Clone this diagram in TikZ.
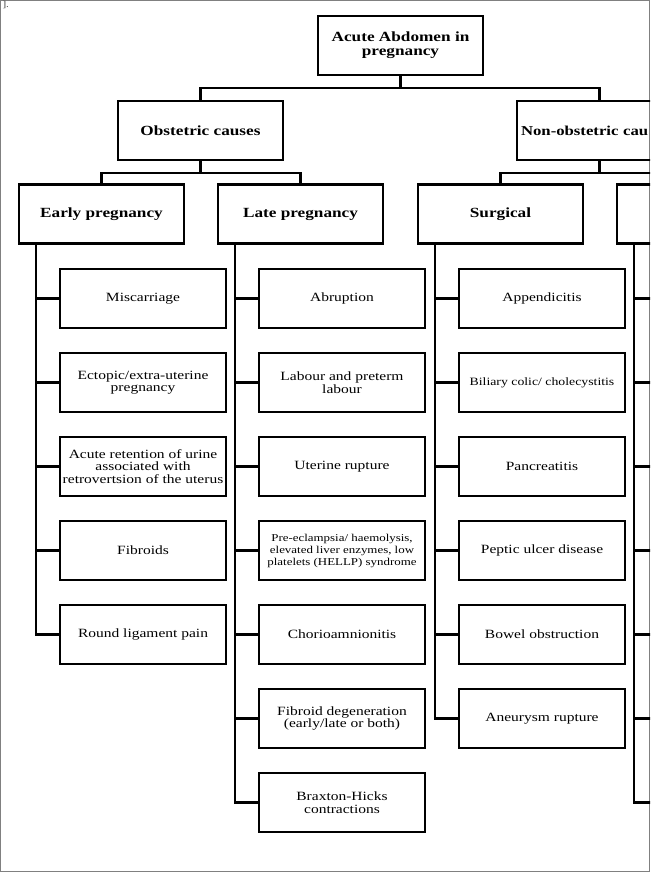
\documentclass[tikz,border=0pt]{standalone}
\usepackage{fontspec}
\setmainfont{Liberation Serif}[FakeStretch=1.23]
\usepackage{tikz}
\usetikzlibrary{positioning}

\begin{document}
\begin{tikzpicture}[x=1pt,y=-1pt]
          \tikzstyle{every node}=[rectangle, draw, line width=2.3pt, minimum width=165pt, minimum height=59pt, align=center, inner sep=2pt, outer sep=0pt]
          \tikzstyle{head}=[font=\fontsize{14}{14}\selectfont\bfseries]
          \tikzstyle{leaf}=[minimum width=166pt, font=\fontsize{12.6}{12.5}\selectfont]
          \tikzstyle{link}=[line width=2.3pt]
          \useasboundingbox (0,0) rectangle (650,872);
          \clip (0,0) rectangle (650,872);
          \draw[gray, line width=1.2pt] (0.6,0.6) rectangle (649.4,871.4);
          \node[draw=none, minimum width=0pt, minimum height=0pt, inner sep=0pt, anchor=north west, text=darkgray, font=\fontsize{9}{9}\selectfont] (Mark) at (2.5,1) {].};

          % top levels
          \node[head] (Root) at (400.5,45.5) {Acute Abdomen in\\pregnancy};
          \node[head] (Obst) at (200.5,130.5) {Obstetric causes};
          \node[head, anchor=west, text width=157pt, align=left, font=\fontsize{13.6}{14}\selectfont\bfseries] (NonObst) at (517,130.5) {Non-obstetric cau};
          \node[head] (Early) at (101.5,214) {Early pregnancy};
          \node[head] (Late) at (300.5,214) {Late pregnancy};
          \node[head] (Surg) at (500.5,214) {Surgical};
          \node[head] (Other) at (699.5,214) {};

          \coordinate (BarA) at (0,88);
          \coordinate (BarB) at (0,173);
          \draw[link] (Root.south) -- (Root.south |- BarA);
          \draw[link] (Obst.north) |- (BarA -| Root) -| (NonObst.north);
          \draw[link] (Obst.south) -- (Obst.south |- BarB);
          \draw[link] (Early.north) |- (BarB -| Obst) -| (Late.north);
          \draw[link] (NonObst.south) -- (NonObst.south |- BarB);
          \draw[link] (Surg.north) |- (BarB -| NonObst) -| (Other.north);

          % early pregnancy
          \node[leaf] (E1) at (143,298.5) {Miscarriage};
          \node[leaf, below=25pt of E1] (E2) {Ectopic/extra-uterine\\pregnancy};
          \node[leaf, below=25pt of E2] (E3) {Acute retention of urine\\associated with\\retrovertsion of the uterus};
          \node[leaf, below=25pt of E3] (E4) {Fibroids};
          \node[leaf, below=25pt of E4] (E5) {Round ligament pain};

          % late pregnancy
          \node[leaf] (L1) at (342,298.5) {Abruption};
          \node[leaf, below=25pt of L1] (L2) {Labour and preterm\\labour};
          \node[leaf, below=25pt of L2] (L3) {Uterine rupture};
          \node[leaf, below=25pt of L3, font=\fontsize{10.5}{12}\selectfont] (L4) {Pre-eclampsia/ haemolysis,\\elevated liver enzymes, low\\platelets (HELLP) syndrome};
          \node[leaf, below=25pt of L4] (L5) {Chorioamnionitis};
          \node[leaf, below=25pt of L5] (L6) {Fibroid degeneration\\(early/late or both)};
          \node[leaf, below=25pt of L6] (L7) {Braxton-Hicks\\contractions};

          % surgical
          \node[leaf] (S1) at (542,298.5) {Appendicitis};
          \node[leaf, below=25pt of S1, font=\fontsize{11.2}{12}\selectfont] (S2) {Biliary colic/ cholecystitis};
          \node[leaf, below=25pt of S2] (S3) {Pancreatitis};
          \node[leaf, below=25pt of S3] (S4) {Peptic ulcer disease};
          \node[leaf, below=25pt of S4] (S5) {Bowel obstruction};
          \node[leaf, below=25pt of S5] (S6) {Aneurysm rupture};

          \coordinate (ESpine) at ([xshift=17pt]Early.south west);
          \coordinate (LSpine) at ([xshift=17pt]Late.south west);
          \coordinate (SSpine) at ([xshift=17pt]Surg.south west);
          \coordinate (OSpine) at ([xshift=17pt]Other.south west);
          \foreach \i in {1,...,5} \draw[link] (ESpine) |- (E\i.west);
          \foreach \i in {1,...,7} \draw[link] (LSpine) |- (L\i.west);
          \foreach \i in {1,...,6} \draw[link] (SSpine) |- (S\i.west);
          \foreach \i in {1,...,7} {
            \coordinate (O\i) at (658,{214.5+84*\i});
            \draw[link] (OSpine) |- (O\i);
          }
        \end{tikzpicture}
\end{document}
